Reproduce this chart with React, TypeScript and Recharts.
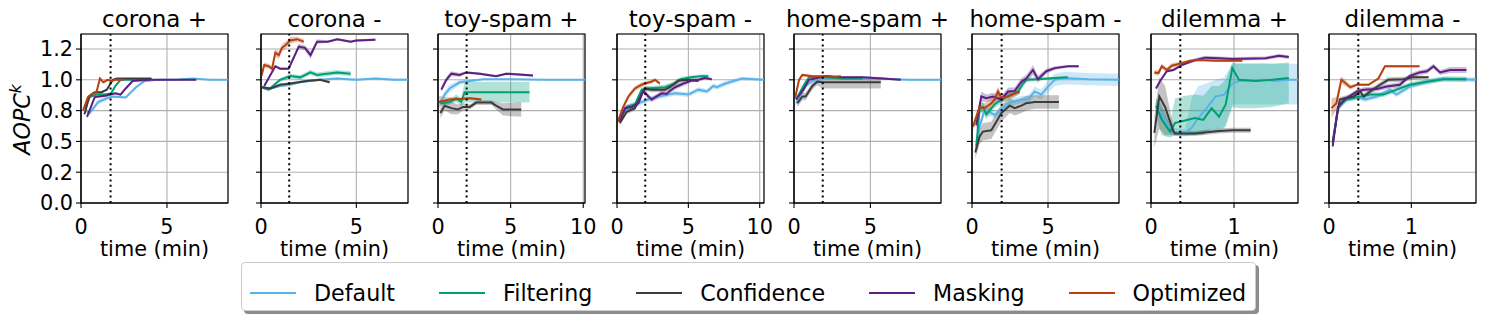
import React from 'react';
import {
  Area,
  CartesianGrid,
  ComposedChart,
  Line,
  ReferenceArea,
  ReferenceLine,
  XAxis,
  YAxis,
} from 'recharts';

document.body.style.margin = '0';

// [time, mean, halfWidth] or [time, mean, low, high]
type Pt = number[];

const panelTitles = [
  'corona +', 'corona -', 'toy-spam +', 'toy-spam -',
  'home-spam +', 'home-spam -', 'dilemma +', 'dilemma -',
];
const xMaxes = [8.55, 7.71, 10.12, 10.3, 9.62, 9.67, 1.771, 1.786];
const xTickValues = [[0, 5], [0, 5], [0, 5, 10], [0, 5, 10], [0, 5], [0, 5], [0, 1], [0, 1]];
const cutoffs = [1.72, 1.48, 1.97, 1.98, 1.88, 1.95, 0.353, 0.356];
const yTickValues = [0, 0.25, 0.5, 0.75, 1.0, 1.25];
const yTickLabels = ['0.0', '0.2', '0.5', '0.8', '1.0', '1.2'];

const defaultRuns: Pt[][] = [
  [[0.3, 0.75, 0.02], [0.5, 0.73, 0.02], [1.0, 0.82, 0.02], [1.5, 0.85, 0.015], [1.85, 0.865, 0.01], [2.6, 0.857, 0.01], [3.2, 0.94, 0.01], [3.7, 0.99, 0.01], [4.5, 1.0, 0.005], [5.5, 1.0, 0.005], [6.5, 1.01, 0.005], [7.5, 1.0, 0.005], [8.55, 1.0, 0.005]],
  [[0.15, 0.93, 0.01], [0.5, 0.93, 0.01], [1.0, 0.95, 0.01], [1.55, 0.96, 0.01], [2.0, 0.98, 0.01], [2.5, 0.99, 0.01], [3.1, 1.0, 0.01], [4.0, 1.01, 0.01], [5.0, 1.0, 0.01], [6.0, 1.01, 0.01], [7.0, 1.0, 0.01], [7.71, 1.0, 0.01]],
  [[0.11, 0.81, 0.02], [0.46, 0.88, 0.03], [0.8, 0.93, 0.03], [1.5, 0.98, 0.02], [2.2, 0.99, 0.01], [3.1, 1.005, 0.005], [5.0, 1.005, 0.005], [7.5, 1.0, 0.005], [10.12, 1.0, 0.005]],
  [[0.14, 0.66, 0.02], [0.8, 0.78, 0.02], [1.73, 0.82, 0.02], [2.2, 0.84, 0.02], [2.9, 0.865, 0.02], [3.6, 0.88, 0.02], [4.07, 0.89, 0.02], [5.0, 0.88, 0.02], [5.7, 0.92, 0.02], [6.3, 0.905, 0.02], [6.75, 0.95, 0.02], [7.0, 0.94, 0.02], [7.6, 0.97, 0.02], [8.74, 1.01, 0.015], [10.3, 1.0, 0.01]],
  [[0.15, 0.81, 0.02], [0.76, 0.95, 0.02], [1.2, 0.99, 0.01], [2.07, 1.01, 0.01], [3.17, 1.01, 0.005], [5.5, 1.01, 0.005], [7.5, 1.0, 0.005], [9.62, 1.0, 0.005]],
  [[0.28, 0.43, 0.03], [0.5, 0.62, 0.04], [0.83, 0.76, 0.04], [1.49, 0.715, 0.03], [1.93, 0.76, 0.03], [2.59, 0.82, 0.03], [3.25, 0.84, 0.03], [3.68, 0.84, 0.03], [4.12, 0.905, 0.04], [4.56, 0.88, 0.04], [5.0, 0.945, 0.05], [5.44, 1.0, 0.05], [6.1, 1.015, 0.05], [7.63, 1.005, 0.05], [9.67, 1.0, 0.05]],
  [[0.06, 0.81, 0.76, 0.86], [0.11, 0.74, 0.69, 0.79], [0.21, 0.62, 0.58, 0.66], [0.27, 0.58, 0.55, 0.61], [0.41, 0.57, 0.54, 0.6], [0.49, 0.61, 0.55, 0.85], [0.57, 0.69, 0.56, 0.95], [0.67, 0.77, 0.57, 0.97], [0.78, 0.865, 0.58, 1.0], [0.88, 0.88, 0.6, 1.02], [0.98, 0.97, 0.8, 1.13], [1.06, 0.99, 0.8, 1.135], [1.22, 0.995, 0.8, 1.135], [1.38, 1.0, 0.8, 1.135], [1.5, 0.99, 0.8, 1.13], [1.62, 1.0, 0.8, 1.13], [1.771, 1.0, 0.8, 1.13]],
  [[0.045, 0.49, 0.03], [0.11, 0.78, 0.03], [0.21, 0.84, 0.02], [0.34, 0.86, 0.02], [0.44, 0.84, 0.02], [0.58, 0.865, 0.02], [0.74, 0.92, 0.02], [0.82, 0.88, 0.02], [0.98, 0.945, 0.02], [1.19, 0.985, 0.02], [1.39, 1.01, 0.02], [1.786, 1.0, 0.02]],
];

const filteringRuns: Pt[][] = [
  [[0.2, 0.77, 0.01], [0.5, 0.86, 0.01], [0.9, 0.88, 0.01], [1.4, 0.88, 0.01], [1.75, 0.89, 0.01], [2.0, 0.95, 0.01], [2.3, 1.0, 0.005], [3.0, 1.0, 0.005], [4.0, 1.0, 0.005]],
  [[0.05, 0.94, 0.01], [0.4, 0.92, 0.015], [1.0, 1.0, 0.015], [1.54, 1.03, 0.02], [2.06, 1.02, 0.02], [2.59, 1.06, 0.02], [2.94, 1.04, 0.02], [3.46, 1.05, 0.02], [4.0, 1.06, 0.02], [4.7, 1.05, 0.02]],
  [[0.16, 0.81, 0.02], [0.8, 0.82, 0.02], [1.26, 0.85, 0.03], [1.6, 0.82, 0.03], [1.83, 0.9, 0.085], [3.0, 0.9, 0.085], [4.5, 0.9, 0.085], [6.3, 0.9, 0.085]],
  [[0.14, 0.675, 0.02], [0.68, 0.78, 0.02], [1.26, 0.8, 0.02], [1.73, 0.92, 0.02], [2.2, 0.93, 0.02], [3.36, 0.94, 0.02], [4.07, 0.97, 0.02], [4.5, 1.005, 0.02], [5.2, 1.02, 0.015], [5.9, 1.03, 0.015], [6.4, 1.03, 0.015]],
  [[0.15, 0.84, 0.02], [0.66, 0.96, 0.02], [0.98, 1.02, 0.01], [2.07, 1.02, 0.01], [3.17, 1.01, 0.01], [4.48, 1.01, 0.01]],
  [[0.28, 0.46, 0.04], [0.5, 0.76, 0.04], [0.72, 0.78, 0.04], [0.94, 0.72, 0.04], [1.49, 0.8, 0.03], [1.93, 0.84, 0.03], [2.59, 0.88, 0.03], [3.03, 0.905, 0.03], [3.36, 0.97, 0.03], [3.57, 1.0, 0.02], [4.34, 1.005, 0.01], [5.44, 1.015, 0.01], [6.3, 1.02, 0.01]],
  [[0.06, 0.79, 0.7, 0.85], [0.13, 0.675, 0.55, 0.8], [0.23, 0.58, 0.53, 0.65], [0.29, 0.65, 0.55, 0.85], [0.41, 0.67, 0.55, 0.87], [0.53, 0.69, 0.55, 0.88], [0.63, 0.675, 0.55, 0.87], [0.73, 0.77, 0.6, 0.95], [0.82, 0.7, 0.6, 0.95], [0.9, 0.8, 0.62, 1.0], [0.98, 1.095, 0.78, 1.14], [1.06, 1.0, 0.77, 1.13], [1.26, 0.99, 0.77, 1.13], [1.46, 1.0, 0.78, 1.13], [1.66, 1.015, 0.81, 1.14]],
  [[0.045, 0.49, 0.03], [0.11, 0.78, 0.03], [0.21, 0.84, 0.02], [0.38, 0.865, 0.02], [0.5, 0.88, 0.02], [0.66, 0.88, 0.02], [0.82, 0.92, 0.02], [0.98, 0.96, 0.02], [1.19, 0.985, 0.02], [1.39, 1.005, 0.02], [1.67, 1.005, 0.02]],
];

const confidenceRuns: Pt[][] = [
  [[0.2, 0.72, 0.01], [0.5, 0.87, 0.01], [0.8, 0.9, 0.01], [1.2, 0.9, 0.01], [1.5, 0.92, 0.01], [1.85, 1.0, 0.01], [2.1, 1.01, 0.005], [3.0, 1.01, 0.005], [4.1, 1.01, 0.005]],
  [[0.05, 0.94, 0.01], [0.5, 0.93, 0.01], [1.0, 0.96, 0.01], [1.54, 0.97, 0.01], [2.4, 0.99, 0.01], [3.1, 1.0, 0.01], [3.6, 0.98, 0.01]],
  [[0.16, 0.73, 0.04], [0.46, 0.79, 0.04], [0.92, 0.77, 0.05], [1.38, 0.76, 0.04], [1.72, 0.78, 0.03], [2.18, 0.78, 0.02], [2.64, 0.815, 0.02], [3.67, 0.815, 0.02], [4.0, 0.79, 0.03], [4.47, 0.76, 0.05], [5.73, 0.76, 0.06]],
  [[0.2, 0.65, 0.02], [0.68, 0.74, 0.02], [1.26, 0.77, 0.02], [1.73, 0.89, 0.02], [1.96, 0.93, 0.02], [2.43, 0.92, 0.02], [3.36, 0.92, 0.02], [3.7, 0.94, 0.02], [4.3, 0.995, 0.015], [5.0, 1.0, 0.01], [5.7, 0.99, 0.01]],
  [[0.22, 0.81, 0.03], [0.55, 0.865, 0.03], [0.76, 0.865, 0.03], [1.2, 0.95, 0.03], [1.53, 0.985, 0.03], [1.86, 0.98, 0.93, 1.01], [3.17, 0.98, 0.93, 1.01], [5.68, 0.98, 0.93, 1.01]],
  [[0.22, 0.41, 0.05], [0.5, 0.54, 0.06], [0.72, 0.58, 0.07], [1.27, 0.59, 0.07], [1.6, 0.66, 0.07], [1.93, 0.73, 0.07], [2.48, 0.79, 0.06], [2.81, 0.77, 0.06], [3.25, 0.79, 0.06], [3.57, 0.81, 0.06], [4.12, 0.82, 0.055], [4.56, 0.82, 0.055], [5.72, 0.82, 0.055]],
  [[0.04, 0.57, 0.45, 0.7], [0.1, 0.865, 0.6, 1.02], [0.17, 0.78, 0.55, 0.95], [0.27, 0.58, 0.55, 0.62], [0.29, 0.565, 0.02], [0.53, 0.565, 0.02], [0.82, 0.585, 0.02], [0.98, 0.59, 0.02], [1.2, 0.59, 0.02]],
  [[0.045, 0.49, 0.03], [0.13, 0.84, 0.02], [0.19, 0.85, 0.02], [0.3, 0.865, 0.02], [0.38, 0.905, 0.02], [0.42, 0.865, 0.02], [0.5, 0.905, 0.02], [0.62, 0.96, 0.02], [0.72, 1.0, 0.02], [0.9, 1.005, 0.02], [1.02, 1.02, 0.02], [1.21, 1.02, 0.01]],
];

const maskingRuns: Pt[][] = [
  [[0.35, 0.7, 0.01], [0.8, 0.86, 0.01], [1.4, 0.87, 0.01], [2.0, 0.89, 0.01], [2.3, 0.88, 0.01], [2.6, 0.93, 0.01], [3.0, 0.99, 0.005], [4.0, 1.0, 0.005], [5.0, 1.0, 0.005], [6.7, 1.0, 0.005]],
  [[0.17, 0.95, 0.01], [0.75, 1.11, 0.01], [1.01, 1.09, 0.01], [1.45, 1.09, 0.01], [1.98, 1.27, 0.02], [2.3, 1.26, 0.02], [2.6, 1.2, 0.03], [2.94, 1.31, 0.02], [3.5, 1.31, 0.01], [4.0, 1.33, 0.01], [4.7, 1.31, 0.01], [5.0, 1.32, 0.01], [6.0, 1.325, 0.01]],
  [[0.23, 0.92, 0.02], [0.57, 1.0, 0.02], [0.92, 1.05, 0.02], [1.49, 1.04, 0.015], [1.95, 1.06, 0.01], [2.87, 1.05, 0.01], [4.0, 1.03, 0.01], [4.7, 1.05, 0.01], [6.54, 1.035, 0.01]],
  [[0.2, 0.66, 0.02], [0.56, 0.77, 0.02], [1.03, 0.78, 0.02], [1.5, 0.81, 0.02], [1.85, 0.91, 0.02], [2.2, 0.865, 0.02], [2.43, 0.84, 0.02], [2.78, 0.865, 0.02], [3.13, 0.89, 0.02], [3.48, 0.885, 0.02], [3.7, 0.91, 0.02], [4.07, 0.94, 0.02], [4.65, 0.97, 0.02], [5.23, 0.995, 0.015], [5.7, 1.0, 0.015], [6.17, 1.015, 0.01], [6.64, 1.005, 0.01]],
  [[0.15, 0.84, 0.02], [0.66, 0.93, 0.02], [0.98, 1.0, 0.01], [2.07, 1.03, 0.01], [3.17, 1.02, 0.01], [4.48, 1.02, 0.01], [5.79, 1.01, 0.01], [6.99, 1.0, 0.005]],
  [[0.28, 0.63, 0.04], [0.61, 0.865, 0.04], [0.94, 0.85, 0.03], [1.38, 0.865, 0.03], [1.93, 0.84, 0.03], [2.37, 0.905, 0.03], [2.81, 0.91, 0.03], [3.25, 0.985, 0.03], [3.57, 1.01, 0.03], [4.01, 1.08, 0.04], [4.34, 1.005, 0.03], [4.89, 1.07, 0.02], [5.44, 1.095, 0.015], [6.32, 1.11, 0.01], [7.02, 1.11, 0.01]],
  [[0.06, 0.93, 0.01], [0.11, 0.99, 0.01], [0.19, 1.07, 0.01], [0.27, 1.08, 0.01], [0.37, 1.12, 0.01], [0.53, 1.16, 0.015], [0.65, 1.18, 0.015], [0.82, 1.175, 0.015], [0.98, 1.17, 0.015], [1.38, 1.175, 0.015], [1.54, 1.195, 0.015], [1.66, 1.185, 0.015]],
  [[0.045, 0.46, 0.03], [0.11, 0.78, 0.03], [0.19, 0.84, 0.02], [0.34, 0.905, 0.02], [0.42, 0.92, 0.02], [0.58, 0.925, 0.02], [0.7, 0.945, 0.02], [0.86, 0.96, 0.02], [0.98, 1.03, 0.02], [1.1, 1.06, 0.02], [1.19, 1.07, 0.02], [1.27, 1.11, 0.02], [1.35, 1.06, 0.02], [1.47, 1.08, 0.025], [1.67, 1.08, 0.025]],
];

const optimizedRuns: Pt[][] = [
  [[0.12, 0.75, 0.01], [0.4, 0.86, 0.01], [0.7, 0.89, 0.01], [0.9, 0.9, 0.01], [1.1, 1.01, 0.01], [1.3, 0.98, 0.01], [1.55, 1.0, 0.01], [1.75, 0.99, 0.01], [2.0, 1.0, 0.005], [2.5, 1.0, 0.005]],
  [[0.02, 1.03, 0.02], [0.17, 1.12, 0.02], [0.4, 1.11, 0.02], [0.58, 1.09, 0.02], [0.75, 1.22, 0.03], [0.93, 1.2, 0.03], [1.1, 1.26, 0.03], [1.28, 1.28, 0.03], [1.54, 1.32, 0.03], [1.89, 1.33, 0.02], [2.24, 1.31, 0.02]],
  [[0.07, 0.82, 0.05], [0.4, 0.83, 0.03], [0.8, 0.84, 0.02], [1.5, 0.845, 0.01], [2.18, 0.85, 0.01], [2.98, 0.84, 0.01]],
  [[0.05, 0.66, 0.02], [0.44, 0.78, 0.02], [0.8, 0.865, 0.02], [1.26, 0.93, 0.02], [1.73, 0.96, 0.02], [1.96, 0.97, 0.015], [2.43, 0.985, 0.015], [2.66, 1.0, 0.015], [3.0, 0.97, 0.015]],
  [[0.07, 0.85, 0.02], [0.33, 1.0, 0.02], [0.55, 1.04, 0.01], [1.2, 1.03, 0.01], [1.86, 1.03, 0.01], [2.51, 1.02, 0.01], [3.06, 1.03, 0.01]],
  [[0.07, 0.62, 0.03], [0.5, 0.78, 0.04], [0.83, 0.77, 0.04], [1.27, 0.81, 0.04], [1.49, 0.84, 0.04], [1.71, 0.905, 0.04], [1.93, 0.85, 0.03], [2.37, 0.865, 0.03], [3.03, 0.9, 0.02], [3.14, 0.9, 0.02]],
  [[0.04, 1.06, 0.02], [0.09, 1.055, 0.02], [0.13, 1.11, 0.02], [0.19, 1.08, 0.02], [0.25, 1.115, 0.02], [0.37, 1.135, 0.015], [0.47, 1.155, 0.01], [0.57, 1.16, 0.01], [0.78, 1.155, 0.01], [1.1, 1.155, 0.01]],
  [[0.03, 0.77, 0.08], [0.09, 0.81, 0.05], [0.15, 1.0, 0.03], [0.26, 0.94, 0.02], [0.34, 0.96, 0.01], [0.48, 0.96, 0.01], [0.6, 1.01, 0.01], [0.68, 1.11, 0.01], [0.74, 1.11, 0.01], [1.1, 1.11, 0.01]],
];

const SERIES = [
  { name: 'Default', color: '#56B4E9', runs: defaultRuns },
  { name: 'Filtering', color: '#009E73', runs: filteringRuns },
  { name: 'Confidence', color: '#3c3c3c', runs: confidenceRuns },
  { name: 'Masking', color: '#5b2082', runs: maskingRuns },
  { name: 'Optimized', color: '#b7410e', runs: optimizedRuns },
];

const Y_MAX = 1.372;
const PANEL_LEFT = [81, 261, 438, 617, 794, 972, 1151, 1329];
const PW = 147;
const AXIS_W = 60;
const PLOT_TOP = 34;
const PLOT_BOTTOM = 203;
const FONT = "'DejaVu Sans', sans-serif";

const toRows = (pts: Pt[]) =>
  pts.map((p) => ({
    t: p[0],
    v: p[1],
    band: p.length > 3 ? [p[2], p[3]] : [p[1] - p[2], p[1] + p[2]],
  }));

function Panel({ idx }: { idx: number }) {
  const xMax = xMaxes[idx];
  const first = idx === 0;
  return (
    <div style={{ position: 'absolute', left: PANEL_LEFT[idx] - AXIS_W, top: 0 }}>
      <ComposedChart
        width={AXIS_W + PW + 22}
        height={262}
        margin={{ top: PLOT_TOP, right: 22, bottom: 0, left: 0 }}
      >
        <CartesianGrid stroke="#b0b0b0" strokeWidth={1.1} />
        <XAxis
          type="number"
          dataKey="t"
          domain={[0, xMax]}
          ticks={xTickValues[idx]}
          interval={0}
          allowDataOverflow
          height={262 - PLOT_BOTTOM}
          tickSize={5}
          tickMargin={11}
          stroke="#000"
          strokeWidth={1.1}
          tick={{ fill: '#000', fontSize: 20.8 }}
          label={{ value: 'time (min)', position: 'insideBottom', offset: 6, fill: '#000', fontSize: 20.8 }}
        />
        <YAxis
          type="number"
          domain={[0, Y_MAX]}
          ticks={yTickValues}
          interval={0}
          allowDataOverflow
          width={AXIS_W}
          tickSize={5}
          tickMargin={3}
          stroke="#000"
          strokeWidth={1.1}
          tick={{ fill: '#000', fontSize: 20.8 }}
          tickFormatter={(v: number) => (first ? yTickLabels[yTickValues.indexOf(v)] : '')}
        />
        {SERIES.map((s) => {
          const rows = toRows(s.runs[idx]);
          return [
            <Area
              key={`${s.name}-band`}
              data={rows}
              dataKey="band"
              type="linear"
              stroke="none"
              fill={s.color}
              fillOpacity={0.3}
              isAnimationActive={false}
              activeDot={false}
            />,
            <Line
              key={`${s.name}-line`}
              data={rows}
              dataKey="v"
              type="linear"
              stroke={s.color}
              strokeWidth={2}
              dot={false}
              activeDot={false}
              isAnimationActive={false}
            />,
          ];
        })}
        <ReferenceLine x={cutoffs[idx]} stroke="#000" strokeWidth={2} strokeDasharray="2 3.4" />
        <ReferenceArea x1={0} x2={xMax} y1={0} y2={Y_MAX} fill="none" stroke="#000" strokeWidth={1.1} />
      </ComposedChart>
    </div>
  );
}

export default function App() {
  return (
    <div style={{ position: 'relative', width: 1486, height: 322, background: '#fff', fontFamily: FONT }}>
      {panelTitles.map((_, i) => (
        <Panel key={i} idx={i} />
      ))}
      <svg width={1486} height={322} style={{ position: 'absolute', left: 0, top: 0, pointerEvents: 'none' }}>
        {panelTitles.map((title, i) => (
          <text key={title} x={PANEL_LEFT[i] + PW / 2} y={27} textAnchor="middle" fontSize={23} fill="#000">
            {title}
          </text>
        ))}
        <text
          transform={`translate(30, ${(PLOT_TOP + PLOT_BOTTOM) / 2 + 1}) rotate(-90)`}
          textAnchor="middle"
          fontSize={22.2}
          fontStyle="italic"
          fill="#000"
        >
          AOPC
          <tspan dy={-9} fontSize={15.5}>k</tspan>
        </text>
      </svg>
      <div
        style={{
          position: 'absolute',
          left: 241,
          top: 262,
          height: 49,
          boxSizing: 'border-box',
          border: '1px solid #cccccc',
          borderRadius: 4,
          background: '#fff',
          boxShadow: '3px 3px 0 rgba(0,0,0,0.45)',
          display: 'flex',
          alignItems: 'center',
          padding: '13px 9px 0 8px',
          gap: 44,
          fontSize: 22.2,
          whiteSpace: 'nowrap',
        }}
      >
        {SERIES.map((s) => (
          <div key={s.name} style={{ display: 'flex', alignItems: 'center' }}>
            <span style={{ display: 'inline-block', width: 46, height: 2, background: s.color, marginRight: 18 }} />
            <span style={{ lineHeight: '30px' }}>{s.name}</span>
          </div>
        ))}
      </div>
    </div>
  );
}
